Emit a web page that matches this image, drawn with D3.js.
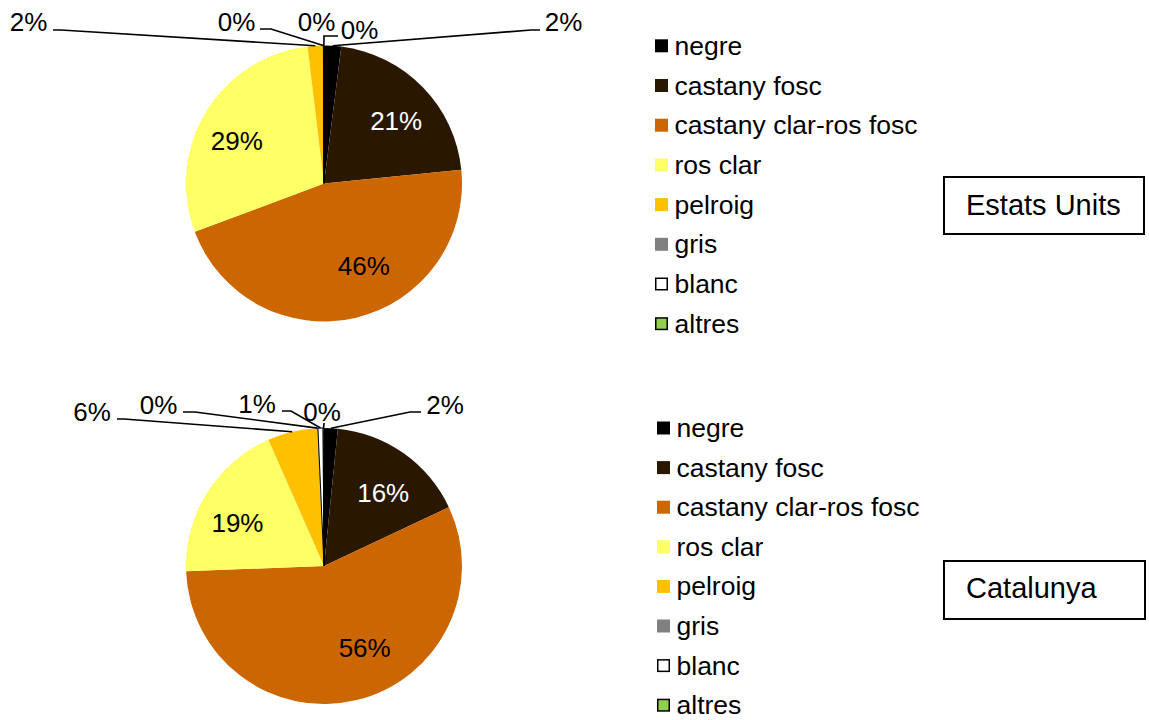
<!DOCTYPE html>
<html>
<head>
<meta charset="utf-8">
<script src="https://cdn.jsdelivr.net/npm/d3@7/dist/d3.min.js"></script>
<style>
  html, body { margin: 0; padding: 0; background: #fff; }
  svg { display: block; }
  text { font-family: "Liberation Sans", Arial, sans-serif; }
</style>
</head>
<body>
<svg id="chart" width="1149" height="720"></svg>
<script>
// ---------------- data ----------------
const categories = ["negre", "castany fosc", "castany clar-ros fosc", "ros clar", "pelroig", "gris", "blanc", "altres"];
const colors = ["#000000", "#2a1700", "#cc6600", "#ffff66", "#ffc000", "#808080", "#ffffff", "#92d050"];
const usValues  = [2.0, 21.4, 45.9, 28.8, 1.8, 0.03, 0.04, 0.03];   // Estats Units (%)
const catValues = [1.6, 16.4, 56.4, 19.0, 5.8, 0.1, 0.6, 0.1];      // Catalunya (%)
const panelTitles = ["Estats Units", "Catalunya"];

// ---------------- layout ----------------
const W = 1149, H = 720;
const R = 138;
const panels = [
  { values: usValues,  cx: 324, cy: 183.5, legendX: 655, legendY: 45.8, legendStep: 39.7,
    box: { x: 944, y: 177, w: 200, h: 57 }, titleBaseline: 215 },
  { values: catValues, cx: 324, cy: 566, legendX: 657, legendY: 428, legendStep: 39.6,
    box: { x: 944, y: 561, w: 201, h: 58 }, titleBaseline: 598 }
];
// inside-label nudges (relative to arc centroid), by category index
const insideNudge = { 1: [5, 3], 2: [18.5, -9], 3: [-7, 6] };
const insideLabelRadius = 0.68;
const insideWhite = new Set([0, 1]);
// outside labels: text centre and leader points, offsets relative to pie centre
const outsideLayouts = [
  { // Estats Units
    4: { t: [-295.5, -161.5], pts: [[-271, -153.5], [-263, -153.5]] },
    5: { t: [-87.5, -161.5],  pts: [[-64, -154.5], [-53, -154.5]] },
    6: { t: [-7.5, -161.5],   pts: null },
    7: { t: [35.5, -153.5],   pts: [[14, -147.5], [0, -147.5]] },
    0: { t: [239.5, -161.5],  pts: [[216, -153.5], [207, -153.5]] }
  },
  { // Catalunya
    4: { t: [-232, -154],  pts: [[-207, -147], [-200, -147]] },
    5: { t: [-165.5, -161], pts: [[-141, -154], [-129, -154]] },
    6: { t: [-67, -162],   pts: [[-42, -155], [-33, -155]] },
    7: { t: [-2, -154],    pts: [[0, -143]] },
    0: { t: [121, -161],   pts: [[97, -154], [86, -154]] }
  }
];

const labelFont = 26, legendFont = 26.5, titleFont = 29;

const svg = d3.select("#chart");
svg.append("rect").attr("width", W).attr("height", H).attr("fill", "#fff");

const pie = d3.pie().sort(null).value(d => d);
const arc = d3.arc().innerRadius(0).outerRadius(R);

panels.forEach((p, pi) => {
  const total = d3.sum(p.values);
  const arcs = pie(p.values);
  const g = svg.append("g").attr("transform", `translate(${p.cx},${p.cy})`);

  // slices
  g.selectAll("path.slice").data(arcs).enter().append("path")
    .attr("class", "slice")
    .attr("d", arc)
    .attr("fill", (d, i) => colors[i])
    .attr("stroke", (d, i) => (i === 6 || i === 7) ? "#000" : "none")
    .attr("stroke-width", 1);

  const pct = v => Math.round(v / total * 100) + "%";
  const lay = outsideLayouts[pi];

  arcs.forEach((d, i) => {
    if (lay[i]) {
      const L = lay[i];
      const mid = (d.startAngle + d.endAngle) / 2;
      const ax = R * Math.sin(mid), ay = -R * Math.cos(mid);
      if (L.pts) {
        const pts = L.pts.concat([[ax, ay]]);
        g.append("path")
          .attr("d", d3.line()(pts))
          .attr("fill", "none").attr("stroke", "#000").attr("stroke-width", 1.6);
      }
      g.append("text")
        .attr("x", L.t[0]).attr("y", L.t[1] + labelFont * 0.358)
        .attr("text-anchor", "middle")
        .attr("font-size", labelFont).attr("fill", "#000")
        .text(pct(d.value));
    } else {
      const la = d3.arc().innerRadius(R * insideLabelRadius).outerRadius(R * insideLabelRadius);
      const c = la.centroid(d);
      const n = insideNudge[i] || [0, 0];
      g.append("text")
        .attr("x", c[0] + n[0]).attr("y", c[1] + n[1] + labelFont * 0.358)
        .attr("text-anchor", "middle")
        .attr("font-size", labelFont)
        .attr("fill", insideWhite.has(i) ? "#fff" : "#000")
        .text(pct(d.value));
    }
  });

  // legend
  const lg = svg.append("g");
  categories.forEach((c, i) => {
    const y = p.legendY + i * p.legendStep;
    const bordered = (i === 6 || i === 7);
    lg.append("rect")
      .attr("x", p.legendX + (bordered ? 0.75 : 0)).attr("y", y - 6.5 + (bordered ? 0.75 : 0))
      .attr("width", bordered ? 11.5 : 13).attr("height", bordered ? 11.5 : 13)
      .attr("fill", colors[i])
      .attr("stroke", bordered ? "#000" : "none").attr("stroke-width", 1.5);
    lg.append("text")
      .attr("x", p.legendX + 19.5).attr("y", y + legendFont * 0.34)
      .attr("font-size", legendFont).attr("fill", "#000")
      .text(c);
  });

  // title box
  svg.append("rect")
    .attr("x", p.box.x).attr("y", p.box.y).attr("width", p.box.w).attr("height", p.box.h)
    .attr("fill", "#fff").attr("stroke", "#000").attr("stroke-width", 2);
  svg.append("text")
    .attr("x", p.box.x + 22).attr("y", p.titleBaseline)
    .attr("font-size", titleFont).attr("fill", "#000")
    .text(panelTitles[pi]);
});
</script>
</body>
</html>
